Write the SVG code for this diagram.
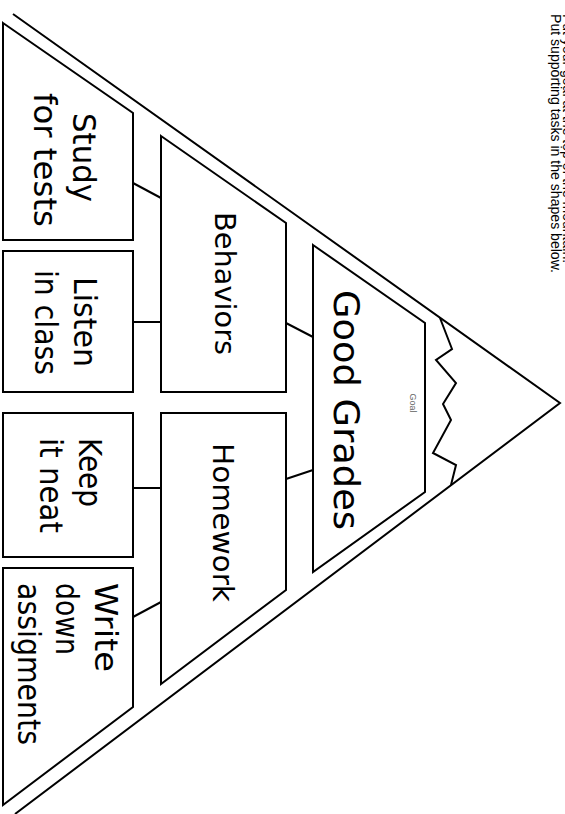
<svg xmlns="http://www.w3.org/2000/svg" width="565" height="814" viewBox="0 0 565 814">
<style>
.shape{fill:#fff;stroke:#000;stroke-width:2;stroke-linejoin:miter}
.line{fill:none;stroke:#000;stroke-width:2}
.lbl{font-family:"DejaVu Sans",sans-serif;fill:#000}
.note{font-family:"Liberation Sans",Arial,sans-serif;font-size:14px;fill:#000}
</style>
<rect width="565" height="814" fill="#fff"/>
<g id="instructions">
<text class="note" transform="translate(563,14) rotate(90)">Put your goal at the top of the mountain.</text>
<text class="note" transform="translate(551,14) rotate(90)" textLength="259" lengthAdjust="spacingAndGlyphs">Put supporting tasks in the shapes below.</text>
</g>
<g id="mountain">
<polyline class="line" points="13,14 560,403 15,814"/>
<polyline class="line" points="440,318 452,349 436,360 456,383 443,404 451,420 433,453 456,465 451,485"/>
</g>
<g id="connectors">
<line class="line" x1="286" y1="323" x2="313" y2="337"/>
<line class="line" x1="286" y1="479" x2="313" y2="470"/>
<line class="line" x1="133" y1="183" x2="161" y2="198"/>
<line class="line" x1="133" y1="322" x2="161" y2="322"/>
<line class="line" x1="133" y1="488" x2="161" y2="488"/>
<line class="line" x1="133" y1="617" x2="161" y2="602"/>
</g>
<g id="goal">
<polygon class="shape" points="313,245 425,323 425,492 313,572"/>
<text transform="translate(410,403) rotate(90)" text-anchor="middle" font-family="Liberation Sans,sans-serif" font-size="9" fill="#666">Goal</text>
<text class="lbl" font-size="35" transform="translate(334,290) rotate(90)" textLength="240" lengthAdjust="spacingAndGlyphs">Good Grades</text>
</g>
<g id="behaviors">
<polygon class="shape" points="161,136 286,223 286,392 161,392"/>
<text class="lbl" font-size="29" transform="translate(215,212) rotate(90)" textLength="143" lengthAdjust="spacingAndGlyphs">Behaviors</text>
</g>
<g id="homework">
<polygon class="shape" points="161,413 286,413 286,590 161,684"/>
<text class="lbl" font-size="29" transform="translate(213,443) rotate(90)" textLength="159" lengthAdjust="spacingAndGlyphs">Homework</text>
</g>
<g id="study">
<polygon class="shape" points="3,23 133,113 133,240 3,240"/>
<text class="lbl" font-size="32" transform="translate(73,113) rotate(90)" textLength="89" lengthAdjust="spacingAndGlyphs">Study</text>
<text class="lbl" font-size="32" transform="translate(34,93) rotate(90)" textLength="134" lengthAdjust="spacingAndGlyphs">for tests</text>
</g>
<g id="listen">
<polygon class="shape" points="3,251 133,251 133,392 3,392"/>
<text class="lbl" font-size="32" transform="translate(74,277) rotate(90)" textLength="90" lengthAdjust="spacingAndGlyphs">Listen</text>
<text class="lbl" font-size="32" transform="translate(35,270) rotate(90)" textLength="105" lengthAdjust="spacingAndGlyphs">in class</text>
</g>
<g id="keep">
<polygon class="shape" points="3,413 133,413 133,557 3,557"/>
<text class="lbl" font-size="32" transform="translate(79,438) rotate(90)" textLength="69" lengthAdjust="spacingAndGlyphs">Keep</text>
<text class="lbl" font-size="32" transform="translate(40,438) rotate(90)" textLength="95" lengthAdjust="spacingAndGlyphs">it neat</text>
</g>
<g id="write">
<polygon class="shape" points="3,568 133,568 133,707 3,805"/>
<text class="lbl" font-size="32" transform="translate(95,583) rotate(90)" textLength="89" lengthAdjust="spacingAndGlyphs">Write</text>
<text class="lbl" font-size="32" transform="translate(56,583) rotate(90)" textLength="72" lengthAdjust="spacingAndGlyphs">down</text>
<text class="lbl" font-size="32" transform="translate(18,583) rotate(90)" textLength="162" lengthAdjust="spacingAndGlyphs">assigments</text>
</g>
</svg>
